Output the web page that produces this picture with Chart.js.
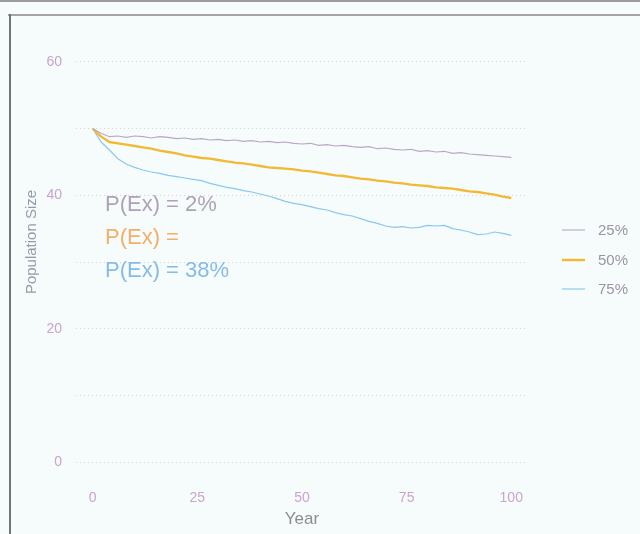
<!DOCTYPE html>
<html>
<head>
<meta charset="utf-8">
<script src="https://cdn.jsdelivr.net/npm/chart.js@4/dist/chart.umd.min.js"></script>
<style>
  html, body { margin: 0; padding: 0; background: #f6fcfc; }
  #wrap { position: relative; width: 640px; height: 534px; overflow: hidden; }
  .rule { position: absolute; background: #9c9c9c; }
</style>
</head>
<body>
<div id="wrap">
  <canvas id="c" width="640" height="534"></canvas>
  <div class="rule" style="left:0;top:0;width:640px;height:2px;"></div>
  <div class="rule" style="left:8px;top:14px;width:632px;height:2px;background:#a4a4a4;"></div>
  <div class="rule" style="left:9px;top:14px;width:2px;height:520px;background:#747474;"></div>
</div>
<script>
// Simulated population trajectories, one value every 2 years
const years = [0,2,4,6,8,10,12,14,16,18,20,22,24,26,28,30,32,34,36,38,40,42,44,46,48,50,
               52,54,56,58,60,62,64,66,68,70,72,74,76,78,80,82,84,86,88,90,92,94,96,98,100];

const pop25 = [50.0,49.3,48.8,48.9,48.7,48.9,48.8,48.6,48.8,48.7,48.5,48.6,48.4,48.5,48.3,48.4,48.2,48.3,48.1,48.2,
               48.0,48.1,47.9,48.0,47.8,47.7,47.8,47.5,47.6,47.4,47.5,47.3,47.2,47.3,47.0,47.1,46.9,46.8,46.9,46.6,
               46.7,46.5,46.6,46.3,46.4,46.2,46.1,46.0,45.9,45.8,45.7];

const pop50 = [50.0,48.8,48.0,47.8,47.6,47.4,47.2,47.0,46.7,46.5,46.3,46.0,45.8,45.6,45.5,45.3,45.1,44.9,44.8,44.6,
               44.4,44.2,44.1,44.0,43.9,43.7,43.6,43.4,43.2,43.0,42.9,42.7,42.5,42.4,42.2,42.1,41.9,41.8,41.6,41.5,
               41.4,41.2,41.1,41.0,40.8,40.6,40.5,40.3,40.1,39.8,39.6];

const pop75 = [50.0,48.0,46.8,45.5,44.7,44.2,43.8,43.5,43.3,43.0,42.8,42.6,42.4,42.2,41.8,41.5,41.2,41.0,40.7,40.5,
               40.2,39.9,39.5,39.1,38.8,38.6,38.3,38.0,37.8,37.4,37.1,36.9,36.5,36.1,35.8,35.4,35.2,35.3,35.1,35.2,
               35.5,35.4,35.5,35.0,34.8,34.5,34.1,34.2,34.5,34.3,34.0];

const seriesLabels = ['25%', '50%', '75%'];
const seriesValues = [pop25, pop50, pop75];
const seriesColors = ['#bba6c6', '#f2b935', '#8ac8ee'];
const seriesWidths = [1.1, 2.4, 1.2];

const yTicks = [0, 10, 20, 30, 40, 50, 60];
const xTicks = [0, 25, 50, 75, 100];

const extinctionNotes = ['P(Ex) = 2%', 'P(Ex) =', 'P(Ex) = 38%'];
const noteColors = ['#aea2b8', '#f3ae68', '#86bbe8'];

const datasets = seriesValues.map((vals, i) => ({
  label: seriesLabels[i],
  data: years.map((yr, j) => ({ x: yr, y: vals[j] })),
  borderColor: seriesColors[i],
  borderWidth: seriesWidths[i],
  pointRadius: 0,
  tension: 0,
  fill: false
}));

// Legend on the right, axis title on the left, and extinction notes
const decorations = {
  id: 'decorations',
  afterDraw(chart) {
    const ctx = chart.ctx;
    ctx.save();

    // y-axis title
    ctx.translate(32, 242);
    ctx.rotate(-Math.PI / 2);
    ctx.font = '15px "Liberation Sans", Arial, sans-serif';
    ctx.fillStyle = '#929caa';
    ctx.textAlign = 'center';
    ctx.textBaseline = 'middle';
    ctx.fillText('Population Size', 0, 0);
    ctx.setTransform(1, 0, 0, 1, 0, 0);

    // legend
    const legendY = [230, 260, 289];
    chart.data.datasets.forEach((ds, i) => {
      const y = legendY[i];
      ctx.strokeStyle = ds.borderColor;
      ctx.lineWidth = ds.borderWidth;
      ctx.beginPath();
      ctx.moveTo(562, y);
      ctx.lineTo(585, y);
      ctx.stroke();
      ctx.font = '15px "Liberation Sans", Arial, sans-serif';
      ctx.fillStyle = '#9c94a4';
      ctx.textAlign = 'left';
      ctx.textBaseline = 'middle';
      ctx.fillText(ds.label, 598, y + 1);
    });

    // extinction probabilities
    const noteY = [205, 238, 271];
    ctx.font = '22px "Liberation Sans", Arial, sans-serif';
    ctx.textAlign = 'left';
    ctx.textBaseline = 'middle';
    extinctionNotes.forEach((t, i) => {
      ctx.fillStyle = noteColors[i];
      ctx.fillText(t, 105, noteY[i]);
    });
    ctx.restore();
  }
};

new Chart(document.getElementById('c'), {
  type: 'line',
  data: { datasets },
  plugins: [decorations],
  options: {
    responsive: false,
    animation: false,
    layout: { padding: { top: 42, right: 112, left: 0, bottom: 0 } },
    plugins: { legend: { display: false }, tooltip: { enabled: false } },
    scales: {
      x: {
        type: 'linear',
        min: -4,
        max: 104,
        afterBuildTicks: s => { s.ticks = xTicks.map(v => ({ value: v })); },
        afterFit: s => { s.height = 52; },
        grid: { display: false, drawTicks: false },
        border: { display: false },
        ticks: {
          padding: 8,
          color: '#cba3cf',
          font: { size: 14, family: '"Liberation Sans", Arial, sans-serif' }
        },
        title: {
          display: true,
          text: 'Year',
          color: '#8c8c92',
          font: { size: 17, family: '"Liberation Sans", Arial, sans-serif' },
          padding: { top: 0, bottom: 4 }
        }
      },
      y: {
        type: 'linear',
        min: -3,
        max: 63,
        afterBuildTicks: s => { s.ticks = yTicks.map(v => ({ value: v })); },
        afterFit: s => { s.width = 76; },
        grid: { color: 'rgba(200,182,204,0.65)', lineWidth: 1, drawTicks: false },
        border: { display: false, dash: [1, 3] },
        ticks: {
          padding: 14,
          color: '#cba3cf',
          font: { size: 14, family: '"Liberation Sans", Arial, sans-serif' },
          callback: v => (v % 20 === 0 ? String(v) : '')
        }
      }
    }
  }
});
</script>
</body>
</html>
